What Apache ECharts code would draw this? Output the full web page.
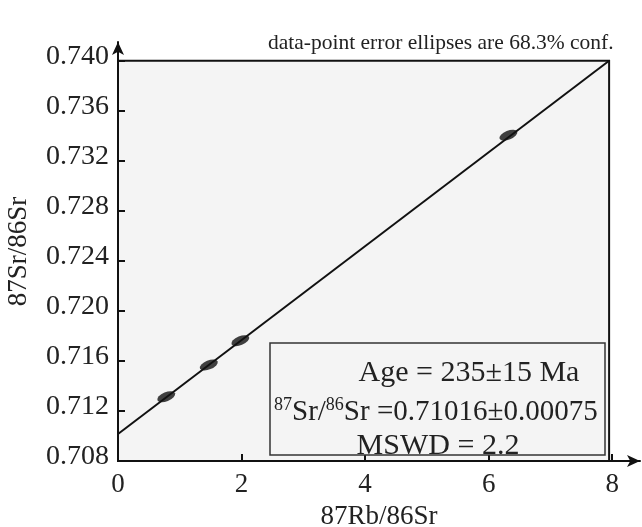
<!DOCTYPE html>
<html>
<head>
<meta charset="utf-8">
<script src="https://cdn.jsdelivr.net/npm/echarts@6/dist/echarts.min.js"></script>
<style>
  html, body { margin: 0; padding: 0; background: #fff; }
  #iso { width: 642px; height: 527px; }
</style>
</head>
<body>
<div id="iso"></div>
<script>
// measured points (87Rb/86Sr, 87Sr/86Sr)
var rbSr = [0.78, 1.47, 1.98, 6.32];
var srSr = [0.71314, 0.71568, 0.71762, 0.73405];
// isochron end points
var lineX = [0, 7.95];
var lineY = [0.71016, 0.740];
// plot frame
var frameX = [0, 7.95];
var frameY = [0.708, 0.740];

var serif = "Liberation Serif";

var points = rbSr.map(function (x, i) { return [x, srSr[i]]; });
var isoLine = lineX.map(function (x, i) { return [x, lineY[i]]; });

var myChart = echarts.init(document.getElementById("iso"));
var option = {
  animation: false,
  backgroundColor: "#fff",
  title: {
    text: "data-point error ellipses are 68.3% conf.",
    left: 263,
    top: 27,
    textStyle: {
      fontFamily: serif,
      fontSize: 21.5,
      fontWeight: "normal",
      color: "#222",
    },
  },
  grid: {
    left: 118,
    right: 2,
    top: 42,
    bottom: 66,
    outerBoundsMode: "none",
  },
  xAxis: {
    type: "value",
    min: 0,
    max: 8.45,
    interval: 2,
    z: 5,
    name: "87Rb/86Sr",
    nameLocation: "middle",
    nameGap: 42,
    nameTextStyle: { fontFamily: serif, fontSize: 27, color: "#222" },
    splitLine: { show: false },
    axisLine: {
      lineStyle: { color: "#111", width: 2 },
      symbol: ["none", "arrow"],
      symbolSize: [9, 13],
    },
    axisTick: { inside: true, length: 7, lineStyle: { color: "#111", width: 2 } },
    axisLabel: {
      showMaxLabel: false,
      margin: 10,
      fontFamily: serif,
      fontSize: 27,
      color: "#222",
    },
  },
  yAxis: {
    type: "value",
    min: 0.708,
    max: 0.7415,
    interval: 0.004,
    z: 5,
    name: "87Sr/86Sr",
    nameLocation: "middle",
    nameGap: 86,
    nameTextStyle: { fontFamily: serif, fontSize: 27, color: "#222" },
    splitLine: { show: false },
    axisLine: {
      lineStyle: { color: "#111", width: 2 },
      symbol: ["none", "arrow"],
      symbolSize: [9, 13],
    },
    axisTick: { inside: true, length: 7, lineStyle: { color: "#111", width: 2 } },
    axisLabel: {
      showMaxLabel: false,
      margin: 9,
      color: "#222",
      formatter: function (v) { return "{t|" + v.toFixed(3) + "}"; },
      rich: {
        t: { fontFamily: serif, fontSize: 28, color: "#222", padding: [0, 0, 9, 0] },
      },
    },
  },
  series: [
    {
      type: "line",
      data: [],
      z: 1,
      markArea: {
        silent: true,
        z: 1,
        itemStyle: {
          color: "#f4f4f4",
          borderColor: "#111",
          borderWidth: 2,
        },
        data: [[
          { coord: [frameX[0], frameY[0]] },
          { coord: [frameX[1], frameY[1]] },
        ]],
      },
    },
    {
      type: "line",
      data: isoLine,
      symbol: "none",
      z: 3,
      lineStyle: { color: "#111", width: 2 },
    },
    {
      type: "scatter",
      data: points,
      symbol: "circle",
      symbolSize: [19, 9],
      symbolRotate: 22,
      z: 4,
      itemStyle: { color: "#111" },
    },
  ],
  graphic: [
    {
      type: "rect",
      shape: { x: 270, y: 343, width: 335, height: 112 },
      style: { fill: "#f4f4f4", stroke: "#333", lineWidth: 1.5 },
      z: 10,
    },
    {
      type: "text",
      x: 469,
      y: 373,
      z: 11,
      style: {
        text: "Age = 235±15 Ma",
        font: "30px " + serif,
        fill: "#222",
        align: "center",
        verticalAlign: "middle",
      },
    },
    {
      type: "text",
      x: 274,
      y: 412,
      z: 11,
      style: {
        text: "{sup|87}Sr/{sup|86}Sr =0.71016±0.00075",
        font: "29px " + serif,
        fill: "#222",
        align: "left",
        verticalAlign: "middle",
        rich: {
          sup: { fontSize: 18, fontFamily: serif, fill: "#222", verticalAlign: "top", padding: [0, 0, 14, 0] },
        },
      },
    },
    {
      type: "text",
      x: 438,
      y: 446,
      z: 11,
      style: {
        text: "MSWD = 2.2",
        font: "30px " + serif,
        fill: "#222",
        align: "center",
        verticalAlign: "middle",
      },
    },
  ],
};
myChart.setOption(option);
window.addEventListener("resize", function () {
  myChart.resize();
});
</script>
</body>
</html>
